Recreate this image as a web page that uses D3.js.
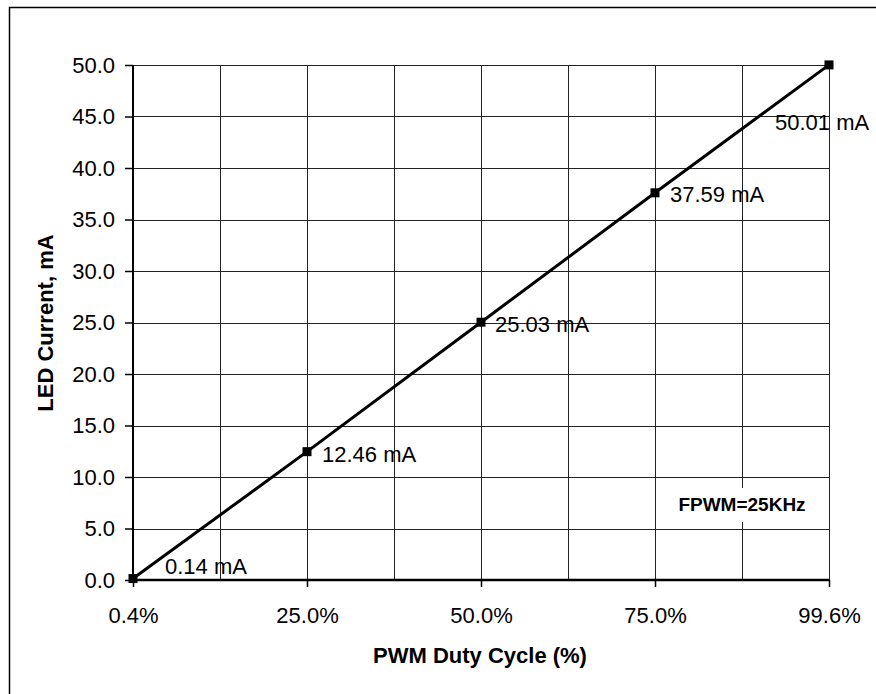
<!DOCTYPE html>
<html>
<head>
<meta charset="utf-8">
<script src="https://d3js.org/d3.v7.min.js"></script>
<style>
  body { margin: 0; background: #fff; }
  text { font-family: "Liberation Sans", Arial, sans-serif; fill: #000; }
  .axisText { font-weight: bold; font-size: 22px; }
</style>
</head>
<body>
<div id="chart"></div>
<script>
// Chart data
var dutyLabels = ["0.4%", "25.0%", "50.0%", "75.0%", "99.6%"];
var ledCurrent = [0.14, 12.46, 25.03, 37.59, 50.01];
var pointLabels = ["0.14 mA", "12.46 mA", "25.03 mA", "37.59 mA", "50.01 mA"];
var yTicks = [0, 5, 10, 15, 20, 25, 30, 35, 40, 45, 50];

// label offsets from each point (dx, dy)
var labelOffsets = [[32, -12], [15, 3], [14, 2], [15, 1], [-54, 57]];

// Define SVG area dimensions
var svgWidth = 876;
var svgHeight = 694;

var chartMargin = {
  top: 65,
  right: 47,
  bottom: 114,
  left: 133
};

var chartWidth = svgWidth - chartMargin.left - chartMargin.right;
var chartHeight = svgHeight - chartMargin.top - chartMargin.bottom;

var svg = d3.select("#chart")
  .append("svg")
  .attr("width", svgWidth)
  .attr("height", svgHeight);

// outer frame
svg.append("rect")
  .attr("x", 9.5)
  .attr("y", 7.5)
  .attr("width", 900)
  .attr("height", 700)
  .attr("fill", "#fff")
  .attr("stroke", "#000")
  .attr("stroke-width", 1.5);

var chartGroup = svg.append("g")
  .attr("transform", `translate(${chartMargin.left}, ${chartMargin.top})`);

var xScale = d3.scalePoint()
  .domain(dutyLabels)
  .range([0, chartWidth]);

var yScale = d3.scaleLinear()
  .domain([0, 50])
  .range([chartHeight, 0]);

// horizontal gridlines
chartGroup.selectAll(".hgrid")
  .data(yTicks)
  .enter()
  .append("line")
  .attr("class", "hgrid")
  .attr("x1", 0)
  .attr("x2", chartWidth)
  .attr("y1", d => Math.round(yScale(d)) + 0.5)
  .attr("y2", d => Math.round(yScale(d)) + 0.5)
  .attr("stroke", "#222")
  .attr("stroke-width", 1);

// vertical gridlines: at each category and halfway between them
var half = xScale.step() / 2;
var vGrid = [];
dutyLabels.forEach(function(d, i) {
  vGrid.push(xScale(d));
  if (i < dutyLabels.length - 1) vGrid.push(xScale(d) + half);
});

chartGroup.selectAll(".vgrid")
  .data(vGrid)
  .enter()
  .append("line")
  .attr("class", "vgrid")
  .attr("x1", d => Math.round(d) + 0.5)
  .attr("x2", d => Math.round(d) + 0.5)
  .attr("y1", 0)
  .attr("y2", chartHeight)
  .attr("stroke", "#222")
  .attr("stroke-width", 1);

// FPWM note with white box
chartGroup.append("rect")
  .attr("x", 672 - chartMargin.left)
  .attr("y", 488 - chartMargin.top)
  .attr("width", 140)
  .attr("height", 34)
  .attr("fill", "#fff");

chartGroup.append("text")
  .attr("x", 742 - chartMargin.left)
  .attr("y", 511 - chartMargin.top)
  .attr("text-anchor", "middle")
  .style("font-weight", "bold")
  .style("font-size", "19px")
  .text("FPWM=25KHz");

// Axes
var leftAxis = d3.axisLeft(yScale)
  .tickValues(yTicks)
  .tickFormat(d3.format(".1f"))
  .tickSize(8)
  .tickPadding(10);

var bottomAxis = d3.axisBottom(xScale)
  .tickSize(7)
  .tickPadding(20);

var yAxisG = chartGroup.append("g").call(leftAxis);
var xAxisG = chartGroup.append("g")
  .attr("transform", `translate(0, ${chartHeight})`)
  .call(bottomAxis);

[yAxisG, xAxisG].forEach(function(g) {
  g.select(".domain").remove();
  g.selectAll("line").attr("stroke", "#000").attr("stroke-width", 1.5);
  g.selectAll("text")
    .style("font-family", "'Liberation Sans', Arial, sans-serif")
    .style("font-size", "22px")
    .attr("fill", "#000");
});

// axis lines (thicker)
chartGroup.append("line")
  .attr("x1", 0).attr("x2", 0)
  .attr("y1", 0).attr("y2", chartHeight)
  .attr("stroke", "#000").attr("stroke-width", 2);

chartGroup.append("line")
  .attr("x1", 0).attr("x2", chartWidth)
  .attr("y1", chartHeight).attr("y2", chartHeight)
  .attr("stroke", "#000").attr("stroke-width", 2.5);

// Series line
var lineData = dutyLabels.map((d, i) => ({ x: d, y: ledCurrent[i], label: pointLabels[i], off: labelOffsets[i] }));

var line = d3.line()
  .x(d => xScale(d.x))
  .y(d => yScale(d.y));

chartGroup.append("path")
  .datum(lineData)
  .attr("d", line)
  .attr("fill", "none")
  .attr("stroke", "#000")
  .attr("stroke-width", 3);

chartGroup.selectAll(".marker")
  .data(lineData)
  .enter()
  .append("rect")
  .attr("class", "marker")
  .attr("x", d => xScale(d.x) - 4.5)
  .attr("y", d => yScale(d.y) - 4.5)
  .attr("width", 9)
  .attr("height", 9)
  .attr("fill", "#000");

// point labels
chartGroup.selectAll(".ptLabel")
  .data(lineData)
  .enter()
  .append("text")
  .attr("class", "ptLabel")
  .attr("x", d => xScale(d.x) + d.off[0])
  .attr("y", d => yScale(d.y) + d.off[1])
  .attr("dy", "0.35em")
  .style("font-size", "22px")
  .text(d => d.label);

// Axis titles
svg.append("text")
  .attr("class", "axisText")
  .attr("transform", "translate(53, 323) rotate(-90)")
  .attr("text-anchor", "middle")
  .text("LED Current, mA");

svg.append("text")
  .attr("class", "axisText")
  .attr("x", 480)
  .attr("y", 663)
  .attr("text-anchor", "middle")
  .text("PWM Duty Cycle (%)");
</script>
</body>
</html>
